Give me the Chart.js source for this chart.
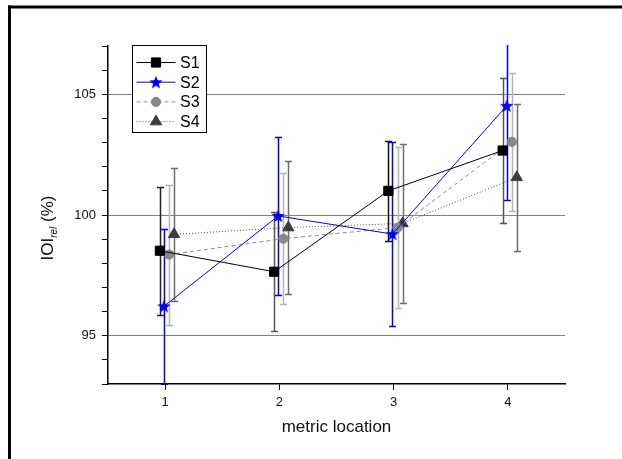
<!DOCTYPE html>
<html>
<head>
<meta charset="utf-8">
<script src="https://cdn.jsdelivr.net/npm/chart.js@4.4.0/dist/chart.umd.min.js"></script>
<style>
  html, body { margin: 0; padding: 0; background: #fff; overflow: hidden; }
  canvas { display: block; }
</style>
</head>
<body>
<canvas id="chart" width="622" height="459"></canvas>
<script>
// metric locations (x categories)
const locations = [1, 2, 3, 4];

// mean IOI_rel (%) and error per series
const s1Mean = [98.52, 97.65, 101.0, 102.67];
const s1Err  = [2.66, 2.47, 2.08, 3.0];
const s2Mean = [96.22, 99.96, 99.21, 104.52];
const s2Err  = [3.2, 3.27, 3.8, 3.91];
const s3Mean = [98.36, 99.02, 99.48, 103.03];
const s3Err  = [2.9, 2.7, 3.35, 2.85];
const s4Mean = [99.2, 99.48, 99.65, 101.56];
const s4Err  = [2.76, 2.76, 3.3, 3.05];

// y tick labels shown
const yLabelTicks = [95, 100, 105];

// 5-point star marker for S2
function makeStar(color, outer) {
    const c = document.createElement('canvas');
    const s = Math.ceil(outer * 2 + 2);
    c.width = s; c.height = s;
    const g = c.getContext('2d');
    const inner = outer * 0.42;
    g.beginPath();
    for (let k = 0; k < 10; k++) {
        const r = k % 2 === 0 ? outer : inner;
        const a = -Math.PI / 2 + k * Math.PI / 5;
        const px = s / 2 + r * Math.cos(a);
        const py = s / 2 + r * Math.sin(a) + 0.5;
        if (k === 0) g.moveTo(px, py); else g.lineTo(px, py);
    }
    g.closePath();
    g.fillStyle = color;
    g.fill();
    return c;
}

function toPoints(means, offset) {
    return locations.map((loc, i) => ({ x: loc + offset, y: means[i] }));
}

const starImg = makeStar('#0000ff', 7);

// error bars drawn under the markers
const errorBarPlugin = {
    id: 'errorBars',
    beforeDatasetsDraw(chart) {
        const { ctx, chartArea, scales: { y } } = chart;
        ctx.save();
        ctx.beginPath();
        ctx.rect(chartArea.left, chartArea.top - 1, chartArea.right - chartArea.left, chartArea.bottom - chartArea.top + 2);
        ctx.clip();
        chart.data.datasets.forEach((ds, di) => {
            const meta = chart.getDatasetMeta(di);
            meta.data.forEach((pt, i) => {
                const m = ds.data[i].y, e = ds.errors[i];
                const top = Math.round(y.getPixelForValue(m + e)) + 0.5;
                const bot = Math.round(y.getPixelForValue(m - e)) + 0.5;
                const x = Math.round(pt.x) + 0.5;
                ctx.strokeStyle = Array.isArray(ds.errorColor) ? ds.errorColor[i] : ds.errorColor;
                ctx.lineWidth = 1.5;
                ctx.beginPath();
                ctx.moveTo(x, top); ctx.lineTo(x, bot);
                ctx.moveTo(x - 3.5, top); ctx.lineTo(x + 3.5, top);
                ctx.moveTo(x - 3.5, bot); ctx.lineTo(x + 3.5, bot);
                ctx.stroke();
            });
        });
        ctx.restore();
    }
};

// page frame, axis titles and boxed legend
const decorPlugin = {
    id: 'decor',
    beforeDraw(chart) {
        const ctx = chart.ctx;
        ctx.save();
        ctx.fillStyle = '#fff';
        ctx.fillRect(0, 0, chart.width, chart.height);
        ctx.fillStyle = '#000';
        ctx.fillRect(8, 5.5, chart.width - 8, 3);
        ctx.fillRect(8, 5.5, 3, chart.height - 5.5);
        ctx.restore();
    },
    afterDraw(chart) {
        const { ctx, chartArea } = chart;
        ctx.save();
        ctx.fillStyle = '#111';

        // x title
        ctx.font = '17px "Liberation Sans", Arial, sans-serif';
        ctx.textAlign = 'center';
        ctx.textBaseline = 'alphabetic';
        ctx.fillText('metric location', (chartArea.left + chartArea.right) / 2, 432);

        // y title with subscript
        ctx.translate(53, 228);
        ctx.rotate(-Math.PI / 2);
        ctx.textAlign = 'left';
        const big = '17px "Liberation Sans", Arial, sans-serif';
        const small = 'italic 10px "Liberation Sans", Arial, sans-serif';
        ctx.font = big; const w1 = ctx.measureText('IOI').width;
        ctx.font = small; const w2 = ctx.measureText('rel').width;
        ctx.font = big; const w3 = ctx.measureText(' (%)').width;
        let x0 = -(w1 + w2 + w3) / 2;
        ctx.font = big; ctx.fillText('IOI', x0, 0);
        ctx.font = small; ctx.fillText('rel', x0 + w1, 4);
        ctx.font = big; ctx.fillText(' (%)', x0 + w1 + w2, 0);
        ctx.restore();

        // legend box
        ctx.save();
        const bx = chartArea.left + 24.5, by = chartArea.top - 0.5, bw = 74, bh = 87;
        ctx.fillStyle = '#fff';
        ctx.fillRect(bx, by, bw, bh);
        ctx.strokeStyle = '#000';
        ctx.lineWidth = 1;
        ctx.strokeRect(bx, by, bw, bh);
        chart.data.datasets.forEach((ds, i) => {
            const ry = by + 17 + i * 19.7;
            ctx.strokeStyle = ds.borderColor;
            ctx.lineWidth = 1;
            ctx.setLineDash(ds.borderDash || []);
            ctx.beginPath();
            ctx.moveTo(bx + 4, ry); ctx.lineTo(bx + 43, ry);
            ctx.stroke();
            ctx.setLineDash([]);
            ctx.fillStyle = ds.pointBackgroundColor;
            ctx.strokeStyle = ds.pointBorderColor;
            Chart.helpers.drawPoint(ctx, {
                pointStyle: ds.pointStyle, radius: ds.pointRadius, rotation: 0, borderWidth: 1
            }, bx + 23.5, ry);
            ctx.fillStyle = '#000';
            ctx.font = '16px "Liberation Sans", Arial, sans-serif';
            ctx.textAlign = 'left';
            ctx.textBaseline = 'middle';
            ctx.fillText(ds.label, bx + 47.5, ry + 1);
        });
        ctx.restore();
    }
};

new Chart(document.getElementById('chart'), {
    type: 'line',
    data: {
        datasets: [
            {
                label: 'S1', data: toPoints(s1Mean, -0.046), errors: s1Err,
                errorColor: ['#222', '#555', '#111', '#555'],
                borderColor: '#000', borderWidth: 1,
                pointStyle: 'rect', pointRadius: 6.5,
                pointBackgroundColor: '#000', pointBorderColor: '#000'
            },
            {
                label: 'S2', data: toPoints(s2Mean, -0.01), errors: s2Err,
                errorColor: '#0000ff',
                borderColor: '#0000ff', borderWidth: 1,
                pointStyle: starImg, pointRadius: 7,
                pointBackgroundColor: '#0000ff', pointBorderColor: '#0000ff'
            },
            {
                label: 'S3', data: toPoints(s3Mean, 0.035), errors: s3Err,
                errorColor: '#b4b4b4',
                borderColor: '#8c8c8c', borderWidth: 1, borderDash: [4, 3],
                pointStyle: 'circle', pointRadius: 4.6,
                pointBackgroundColor: '#878787', pointBorderColor: '#878787'
            },
            {
                label: 'S4', data: toPoints(s4Mean, 0.078), errors: s4Err,
                errorColor: '#6e6e6e',
                borderColor: '#555', borderWidth: 1, borderDash: [1, 2],
                pointStyle: 'triangle', pointRadius: 6.5,
                pointBackgroundColor: '#3c3c3c', pointBorderColor: '#3c3c3c'
            }
        ]
    },
    options: {
        responsive: false,
        animation: false,
        events: [],
        layout: { padding: { left: 0, top: 46, right: 57, bottom: 0 } },
        plugins: { legend: { display: false }, tooltip: { enabled: false } },
        elements: { line: { tension: 0, fill: false } },
        scales: {
            x: {
                type: 'linear',
                min: 0.5, max: 4.5,
                afterBuildTicks(scale) { scale.ticks = locations.map(v => ({ value: v })); },
                afterFit(scale) { scale.height = 75; },
                grid: { drawOnChartArea: false, tickLength: 6, tickColor: '#000', tickWidth: 1 },
                border: { color: '#000', width: 1.5 },
                ticks: {
                    padding: 5, color: '#111',
                    font: { family: '"Liberation Sans", Arial, sans-serif', size: 13 }
                }
            },
            y: {
                min: 93, max: 107,
                afterFit(scale) { scale.width = 108; },
                grid: {
                    color: c => yLabelTicks.includes(c.tick && c.tick.value) ? '#000' : 'rgba(0,0,0,0)',
                    lineWidth: 1,
                    tickLength: 6, tickColor: '#000', tickWidth: 1, tickBorderDash: []
                },
                border: { color: '#000', width: 1.5, dash: [1, 1] },
                ticks: {
                    stepSize: 1, padding: 6, color: '#111',
                    autoSkip: false,
                    font: { family: '"Liberation Sans", Arial, sans-serif', size: 13 },
                    callback: v => yLabelTicks.includes(v) ? String(v) : ''
                }
            }
        }
    },
    plugins: [errorBarPlugin, decorPlugin]
});
</script>
</body>
</html>
